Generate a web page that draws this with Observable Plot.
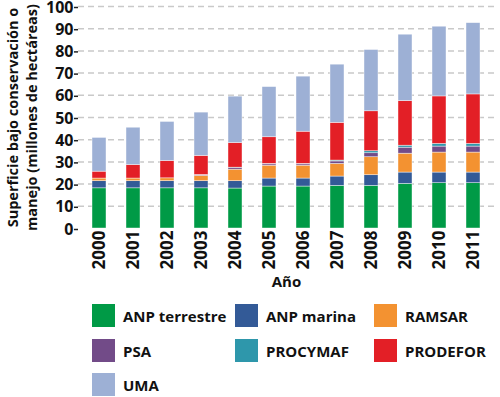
<!DOCTYPE html>
<html>
<head>
<meta charset="utf-8">
<script src="https://cdn.jsdelivr.net/npm/d3@7"></script>
<script src="https://cdn.jsdelivr.net/npm/@observablehq/plot@0.6"></script>
<style>
  body { margin: 0; background: #fff; font-family: "Open Sans", sans-serif; }
  #wrap { width: 500px; }
  #legend { position: relative; width: 500px; height: 99px; }
  .item { position: absolute; display: flex; align-items: center; font-weight: 700; font-size: 15px; color: #111; }
  .sw { width: 23px; height: 23px; margin-right: 8px; }
</style>
</head>
<body>
<div id="wrap">
  <div id="chart"></div>
  <div id="legend"></div>
</div>
<script>
const years = ["2000","2001","2002","2003","2004","2005","2006","2007","2008","2009","2010","2011"];
const categories = ["ANP terrestre","ANP marina","RAMSAR","PSA","PROCYMAF","PRODEFOR","UMA"];
const colors = ["#009a46","#335a97","#f39231","#724b88","#2e97ab","#e31f26","#9db0d5"];
const anpTerrestre = [18.1,18.1,18.1,18.1,18.0,18.9,18.9,19.2,19.2,20.1,20.4,20.4];
const anpMarina    = [3.2,3.2,3.2,3.2,3.3,3.6,3.6,4.2,4.8,5.1,4.8,4.8];
const ramsar       = [1.2,1.2,1.3,2.4,5.2,5.8,5.8,5.7,8.1,8.5,9.0,9.0];
const psa          = [0,0,0,0.3,0.7,0.6,0.6,1.1,1.8,2.7,2.7,2.7];
const procymaf     = [0,0,0,0.1,0.2,0.2,0.2,0.4,0.9,0.9,1.2,1.2];
const prodefor     = [3.1,6.1,7.8,8.6,11.1,12.0,14.5,17.0,18.0,20.1,21.4,22.3];
const uma          = [15.2,16.8,17.6,19.5,20.9,22.6,24.8,26.2,27.6,29.9,31.4,32.1];
const yTicks = [0,10,20,30,40,50,60,70,80,90,100];

const series = [anpTerrestre, anpMarina, ramsar, psa, procymaf, prodefor, uma];
const data = [];
years.forEach((yr, i) => {
  categories.forEach((c, k) => data.push({year: yr, cat: c, value: series[k][i]}));
});

const chart = Plot.plot({
  width: 500,
  height: 298,
  marginLeft: 78,
  marginRight: 6,
  marginTop: 6,
  marginBottom: 70,
  style: {fontFamily: "Open Sans, sans-serif", fontWeight: 700, fontSize: "16px", color: "#111"},
  x: {domain: years, paddingInner: 0.59, paddingOuter: 0.33, label: null},
  y: {domain: [0, 100], ticks: yTicks, label: null},
  color: {domain: categories, range: colors},
  marks: [
    Plot.ruleY(yTicks.filter(d => d > 0), {stroke: "#c9c9c9", strokeWidth: 1.5, strokeDasharray: "6,4"}),
    Plot.barY(data, {x: "year", y: "value", fill: "cat", stroke: "#fff", strokeWidth: 0.6, strokeOpacity: 0.7}),
    Plot.axisY({ticks: yTicks, tickSize: 4, tickPadding: 1, line: true, stroke: "#222", strokeWidth: 1.5, fontSize: 16, fontWeight: 700, label: null, dy: 1}),
    Plot.axisX({tickRotate: -90, tickSize: 0, tickPadding: 2, line: true, stroke: "#222", strokeWidth: 1.5, fontSize: 17, fontWeight: 700, label: null}),
    Plot.text(["Año"], {frameAnchor: "bottom", dy: 58, fontSize: 15, fontWeight: 700, fill: "#111"}),
    Plot.text(["Superficie bajo conservación o\nmanejo (millones de hectáreas)"], {
      frameAnchor: "left", rotate: -90, dx: -57, textAnchor: "middle", lineAnchor: "middle",
      fontSize: 14.5, fontWeight: 700, lineHeight: 1.3, fill: "#111"
    })
  ]
});
document.getElementById("chart").appendChild(chart);

const legend = document.getElementById("legend");
const colX = [92, 235, 374];
const rowY = [6, 41, 75];
categories.forEach((c, k) => {
  const d = document.createElement("div");
  d.className = "item";
  d.style.left = colX[k % 3] + "px";
  d.style.top = rowY[Math.floor(k / 3)] + "px";
  d.innerHTML = `<span class="sw" style="background:${colors[k]}"></span><span>${c}</span>`;
  legend.appendChild(d);
});
</script>
</body>
</html>
